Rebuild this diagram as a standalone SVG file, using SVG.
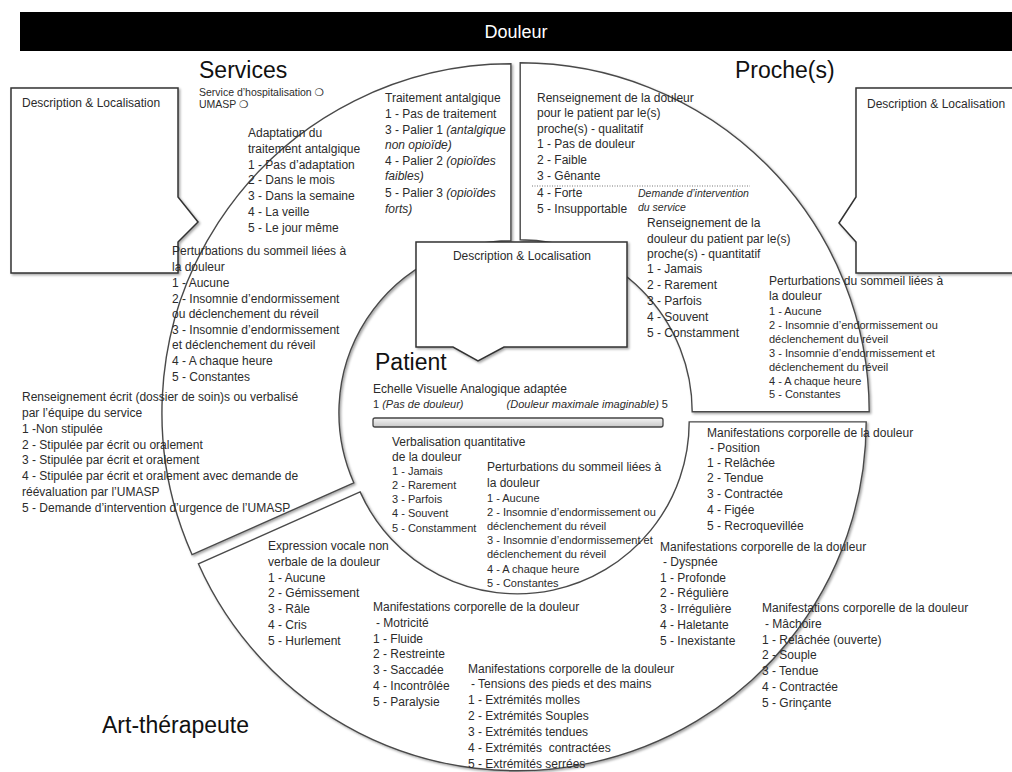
<svg xmlns="http://www.w3.org/2000/svg" width="1012" height="772" viewBox="0 0 1012 772">
<defs>
<filter id="sh" x="-5%" y="-5%" width="115%" height="115%">
<feDropShadow dx="1.5" dy="1.5" stdDeviation="1.2" flood-color="#000" flood-opacity="0.35"/>
</filter>
<linearGradient id="eva" x1="0" y1="0" x2="0" y2="1">
<stop offset="0" stop-color="#f4f4f4"/>
<stop offset="1" stop-color="#c8c8c8"/>
</linearGradient>
</defs>
<style>
.seg{fill:#fff;stroke:#4a4a4a;stroke-width:1.4;filter:url(#sh)}
.box{fill:#fff;stroke:#333;stroke-width:1.5;filter:url(#sh)}
text{font-family:"Liberation Sans","DejaVu Sans",Arial,sans-serif;fill:#2b2b2b}
.h{font-size:23px;fill:#111}
.t{font-size:12px}
.s{font-size:11px}
.xs{font-size:10.5px}
.i{font-style:italic}
.sep{stroke:#777;stroke-width:1;stroke-dasharray:1 1.5;fill:none}
</style>
<rect width="1012" height="772" fill="#fff"/>

<g id="title">
<rect x="20" y="12" width="1000" height="39" fill="#000"/>
<text x="516" y="38" text-anchor="middle" style="font-size:18px;fill:#fff">Douleur</text>
</g>

<g id="segments">
<path id="seg-services" class="seg" d="M353.8,482.8 L192.1,554.7 A349,349 0 0 1 510.9,63.8 L510.9,240.8 A172,172 0 0 0 353.8,482.8 Z"/>
<path id="seg-proches" class="seg" d="M520.2,239.8 L520.2,62.8 A349,349 0 0 1 869.2,411.8 L692.2,411.8 A172,172 0 0 0 520.2,239.8 Z"/>
<path id="seg-art" class="seg" d="M689.2,421.9 L866.2,421.9 A349,349 0 0 1 198.4,563.8 L360.1,491.9 A172,172 0 0 0 689.2,421.9 Z"/>
</g>

<g id="desc-left">
<path class="box" d="M11,88 H178 V197 L198,222 L178,242 V273 H11 Z"/>
<text class="t" x="22" y="107">Description &amp; Localisation</text>
</g>
<g id="desc-right">
<path class="box" d="M856,88 H1020 V273 H856 V242 L839,223 L856,197 Z"/>
<text class="t" x="867" y="108">Description &amp; Localisation</text>
</g>
<g id="desc-center">
<path class="box" d="M416,242 H627 V347 H504 L478,361 L453,347 H416 Z"/>
<text class="t" x="522" y="260" text-anchor="middle">Description &amp; Localisation</text>
</g>

<g id="services">
<text class="h" x="199" y="78">Services</text>
<text class="xs" x="199" y="96">Service d’hospitalisation ❍</text>
<text class="xs" x="199" y="108">UMASP ❍</text>
<text class="t" x="385" y="102">Traitement antalgique</text>
<text class="t" x="385" y="118">1 - Pas de traitement</text>
<text class="t" x="385" y="134">3 - Palier 1 <tspan class="i">(antalgique</tspan></text>
<text class="t i" x="385" y="149">non opioïde)</text>
<text class="t" x="385" y="165">4 - Palier 2 <tspan class="i">(opioïdes</tspan></text>
<text class="t i" x="385" y="180">faibles)</text>
<text class="t" x="385" y="197">5 - Palier 3 <tspan class="i">(opioïdes</tspan></text>
<text class="t i" x="385" y="213">forts)</text>
<text class="t" x="248" y="137">Adaptation du</text>
<text class="t" x="248" y="153">traitement antalgique</text>
<text class="t" x="248" y="169">1 - Pas d’adaptation</text>
<text class="t" x="248" y="184">2 - Dans le mois</text>
<text class="t" x="248" y="200">3 - Dans la semaine</text>
<text class="t" x="248" y="216">4 - La veille</text>
<text class="t" x="248" y="232">5 - Le jour même</text>
<text class="t" x="172" y="255">Perturbations du sommeil liées à</text>
<text class="t" x="172" y="271">la douleur</text>
<text class="t" x="172" y="287">1 - Aucune</text>
<text class="t" x="172" y="303">2 - Insomnie d’endormissement</text>
<text class="t" x="172" y="318">ou déclenchement du réveil</text>
<text class="t" x="172" y="334">3 - Insomnie d’endormissement</text>
<text class="t" x="172" y="349">et déclenchement du réveil</text>
<text class="t" x="172" y="365">4 - A chaque heure</text>
<text class="t" x="172" y="381">5 - Constantes</text>
<text class="t" x="22" y="401">Renseignement écrit (dossier de soin)s ou verbalisé</text>
<text class="t" x="22" y="417">par l’équipe du service</text>
<text class="t" x="22" y="433">1 -Non stipulée</text>
<text class="t" x="22" y="449">2 - Stipulée par écrit ou oralement</text>
<text class="t" x="22" y="464">3 - Stipulée par écrit et oralement</text>
<text class="t" x="22" y="480">4 - Stipulée par écrit et oralement avec demande de</text>
<text class="t" x="22" y="496">réévaluation par l’UMASP</text>
<text class="t" x="22" y="512">5 - Demande d’intervention d’urgence de l’UMASP</text>
</g>

<g id="separator">
<line class="sep" x1="532" y1="186" x2="750" y2="186"/>
</g>

<g id="proches">
<text class="h" x="735" y="78">Proche(s)</text>
<text class="t" x="537" y="102">Renseignement de la douleur</text>
<text class="t" x="537" y="117">pour le patient par le(s)</text>
<text class="t" x="537" y="133">proche(s) - qualitatif</text>
<text class="t" x="537" y="148">1 - Pas de douleur</text>
<text class="t" x="537" y="164">2 - Faible</text>
<text class="t" x="537" y="180">3 - Gênante</text>
<text class="t" x="537" y="197">4 - Forte</text>
<text class="t" x="537" y="213">5 - Insupportable</text>
<text class="xs i" x="638" y="197">Demande d’intervention</text>
<text class="xs i" x="638" y="211">du service</text>
<text class="t" x="647" y="227">Renseignement de la</text>
<text class="t" x="647" y="243">douleur du patient par le(s)</text>
<text class="t" x="647" y="258">proche(s) - quantitatif</text>
<text class="t" x="647" y="273">1 - Jamais</text>
<text class="t" x="647" y="289">2 - Rarement</text>
<text class="t" x="647" y="305">3 - Parfois</text>
<text class="t" x="647" y="321">4 - Souvent</text>
<text class="t" x="647" y="337">5 - Constamment</text>
<text class="t" x="769" y="285">Perturbations du sommeil liées à</text>
<text class="t" x="769" y="300">la douleur</text>
<text class="s" x="769" y="315">1 - Aucune</text>
<text class="s" x="769" y="329">2 - Insomnie d’endormissement ou</text>
<text class="s" x="769" y="343">déclenchement du réveil</text>
<text class="s" x="769" y="357">3 - Insomnie d’endormissement et</text>
<text class="s" x="769" y="371">déclenchement du réveil</text>
<text class="s" x="769" y="385">4 - A chaque heure</text>
<text class="s" x="769" y="398">5 - Constantes</text>
</g>

<g id="patient">
<text class="h" x="375" y="370">Patient</text>
<text class="t" x="373" y="393">Echelle Visuelle Analogique adaptée</text>
<text class="s" x="373" y="408">1 <tspan class="i">(Pas de douleur)</tspan></text>
<text class="s" x="668" y="408" text-anchor="end"><tspan class="i">(Douleur maximale imaginable)</tspan> 5</text>
<rect x="373" y="418" width="290" height="9" rx="2" fill="url(#eva)" stroke="#444" stroke-width="1.3"/>
<text class="t" x="392" y="446">Verbalisation quantitative</text>
<text class="t" x="392" y="461">de la douleur</text>
<text class="s" x="392" y="475">1 - Jamais</text>
<text class="s" x="392" y="489">2 - Rarement</text>
<text class="s" x="392" y="503">3 - Parfois</text>
<text class="s" x="392" y="517">4 - Souvent</text>
<text class="s" x="392" y="532">5 - Constamment</text>
<text class="t" x="487" y="471">Perturbations du sommeil liées à</text>
<text class="t" x="487" y="487">la douleur</text>
<text class="s" x="487" y="502">1 - Aucune</text>
<text class="s" x="487" y="516">2 - Insomnie d’endormissement ou</text>
<text class="s" x="487" y="530">déclenchement du réveil</text>
<text class="s" x="487" y="544">3 - Insomnie d’endormissement et</text>
<text class="s" x="487" y="558">déclenchement du réveil</text>
<text class="s" x="487" y="573">4 - A chaque heure</text>
<text class="s" x="487" y="587">5 - Constantes</text>
</g>

<g id="art-therapeute">
<text class="h" x="102" y="733">Art-thérapeute</text>
<text class="t" x="707" y="437">Manifestations corporelle de la douleur</text>
<text class="t" x="710" y="452">- Position</text>
<text class="t" x="707" y="467">1 - Relâchée</text>
<text class="t" x="707" y="482">2 - Tendue</text>
<text class="t" x="707" y="498">3 - Contractée</text>
<text class="t" x="707" y="514">4 - Figée</text>
<text class="t" x="707" y="530">5 - Recroquevillée</text>
<text class="t" x="660" y="551">Manifestations corporelle de la douleur</text>
<text class="t" x="663" y="566">- Dyspnée</text>
<text class="t" x="660" y="582">1 - Profonde</text>
<text class="t" x="660" y="597">2 - Régulière</text>
<text class="t" x="660" y="613">3 - Irrégulière</text>
<text class="t" x="660" y="629">4 - Haletante</text>
<text class="t" x="660" y="645">5 - Inexistante</text>
<text class="t" x="762" y="612">Manifestations corporelle de la douleur</text>
<text class="t" x="765" y="628">- Mâchoire</text>
<text class="t" x="762" y="644">1 - Relâchée (ouverte)</text>
<text class="t" x="762" y="659">2 - Souple</text>
<text class="t" x="762" y="675">3 - Tendue</text>
<text class="t" x="762" y="691">4 - Contractée</text>
<text class="t" x="762" y="707">5 - Grinçante</text>
<text class="t" x="268" y="550">Expression vocale non</text>
<text class="t" x="268" y="566">verbale de la douleur</text>
<text class="t" x="268" y="582">1 - Aucune</text>
<text class="t" x="268" y="597">2 - Gémissement</text>
<text class="t" x="268" y="613">3 - Râle</text>
<text class="t" x="268" y="629">4 - Cris</text>
<text class="t" x="268" y="645">5 - Hurlement</text>
<text class="t" x="373" y="611">Manifestations corporelle de la douleur</text>
<text class="t" x="376" y="627">- Motricité</text>
<text class="t" x="373" y="643">1 - Fluide</text>
<text class="t" x="373" y="658">2 - Restreinte</text>
<text class="t" x="373" y="674">3 - Saccadée</text>
<text class="t" x="373" y="690">4 - Incontrôlée</text>
<text class="t" x="373" y="706">5 - Paralysie</text>
<text class="t" x="468" y="673">Manifestations corporelle de la douleur</text>
<text class="t" x="471" y="688">- Tensions des pieds et des mains</text>
<text class="t" x="468" y="704">1 - Extrémités molles</text>
<text class="t" x="468" y="720">2 - Extrémités Souples</text>
<text class="t" x="468" y="736">3 - Extrémités tendues</text>
<text class="t" x="468" y="752" xml:space="preserve">4 - Extrémités  contractées</text>
<text class="t" x="468" y="768">5 - Extrémités serrées</text>
</g>
</svg>
